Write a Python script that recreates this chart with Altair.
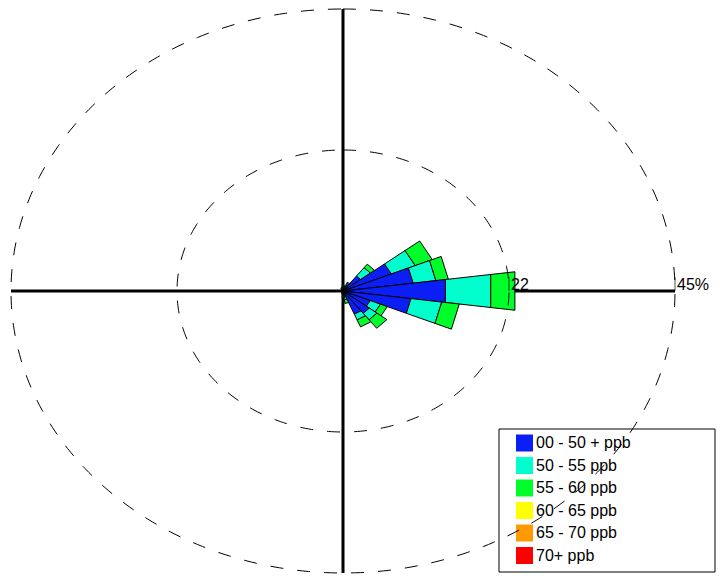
import numpy as np
import pandas as pd
import altair as alt

# ---- data ----
directions = [0, 15, 30, 45, 60, 75, 90, 105, 120, 135, 150, 165,
              180, 195, 210, 225, 240, 255, 270, 285, 300, 315, 330, 345]
s_00_50 = [0.5, 0.4, 1.0, 3.0, 7.1, 9.6, 14.0, 9.3, 4.0, 4.5, 4.0, 1.0,
           0.5, 0.3, 0.2, 0.2, 0.2, 0.2, 0.2, 0.2, 0.2, 0.2, 0.3, 0.3]
s_50_55 = [0.2, 0.2, 0.3, 1.7, 3.5, 3.1, 6.2, 4.2, 1.5, 1.3, 1.0, 0.4,
           0.2, 0.1, 0.0, 0.0, 0.0, 0.0, 0.0, 0.0, 0.0, 0.0, 0.1, 0.1]
s_55_60 = [0.3, 0.2, 0.2, 0.7, 2.5, 1.7, 3.3, 2.4, 1.0, 1.7, 1.2, 0.6,
           0.3, 0.1, 0.0, 0.0, 0.0, 0.0, 0.0, 0.0, 0.0, 0.0, 0.1, 0.2]
s_60_65 = [0.0] * 24
s_65_70 = [0.0] * 24
s_70p = [0.0] * 24

band_labels = ["00 - 50 + ppb", "50 - 55 ppb", "55 - 60 ppb",
               "60 - 65 ppb", "65 - 70 ppb", "70+ ppb"]
band_colors = ["#0a1ef5", "#00ffcc", "#00ff2a", "#ffff00", "#ff9900", "#ff0000"]
ring_values = [22.5, 45]
ring_labels = ["22", "45%"]
sector_width = 15

series = [s_00_50, s_50_55, s_55_60, s_60_65, s_65_70, s_70p]

# ---- wedge polygons (derived from the data) ----
rows = []
for i, d in enumerate(directions):
    cum = 0.0
    for k, vals in enumerate(series):
        v = vals[i]
        if v <= 0:
            continue
        r0, r1 = cum, cum + v
        t1 = np.radians(d - sector_width / 2)
        t2 = np.radians(d + sector_width / 2)
        pts = [(r0, t1), (r1, t1), (r1, t2), (r0, t2)]
        for j, (r, t) in enumerate(pts):
            rows.append({"pid": f"{d}-{k}", "band": band_labels[k], "o": j,
                         "x": r * np.sin(t), "y": r * np.cos(t)})
        cum = r1
wedge_df = pd.DataFrame(rows)

ring_rows = []
for r in ring_values:
    for j, a in enumerate(np.arange(0, 361, 1)):
        t = np.radians(a)
        ring_rows.append({"ring": r, "o": j, "x": r * np.sin(t), "y": r * np.cos(t)})
ring_df = pd.DataFrame(ring_rows)

rmax = max(ring_values)
xs = alt.Scale(domain=[-rmax, rmax], nice=False, zero=False)
ys = alt.Scale(domain=[-rmax, rmax], nice=False, zero=False)

axes_df = pd.DataFrame({"x": [-rmax, 0], "x2": [rmax, 0], "y": [0, -rmax], "y2": [0, rmax]})
axes = alt.Chart(axes_df).mark_rule(color="black", strokeWidth=3).encode(
    x=alt.X("x:Q", scale=xs, axis=None), x2="x2:Q",
    y=alt.Y("y:Q", scale=ys, axis=None), y2="y2:Q")

wedges = alt.Chart(wedge_df).mark_line(
    interpolate="linear-closed", stroke="black", strokeWidth=1, fillOpacity=1
).encode(
    x=alt.X("x:Q", scale=xs, axis=None),
    y=alt.Y("y:Q", scale=ys, axis=None),
    fill=alt.Fill("band:N", scale=alt.Scale(domain=band_labels, range=band_colors), legend=None),
    detail="pid:N",
    order="o:Q",
)

leg_df = pd.DataFrame({"label": band_labels, "color": band_colors, "idx": list(range(6))})
leg_box = alt.Chart(pd.DataFrame({"a": [0]})).mark_rect(
    fill="white", stroke="black", strokeWidth=1).encode(
    x=alt.value(488), x2=alt.value(704), y=alt.value(420), y2=alt.value(563))
leg_sq = alt.Chart(leg_df).transform_calculate(py="434 + datum.idx * 22.5").mark_square(
    size=289, opacity=1, filled=True).encode(
    x=alt.value(513.5), y=alt.Y("py:Q", scale=None),
    color=alt.Color("color:N", scale=None))
leg_tx = alt.Chart(leg_df).transform_calculate(py="434 + datum.idx * 22.5").mark_text(
    align="left", baseline="middle", font="Liberation Sans", fontSize=16, color="black").encode(
    x=alt.value(525), y=alt.Y("py:Q", scale=None), text="label:N")

rings = alt.Chart(ring_df).mark_line(
    color="black", strokeWidth=1, strokeDash=[13, 14]).encode(
    x=alt.X("x:Q", scale=xs, axis=None), y=alt.Y("y:Q", scale=ys, axis=None),
    detail="ring:N", order="o:Q")

lab_df = pd.DataFrame({"x": ring_values, "y": [0, 0], "t": ring_labels})
ticks = alt.Chart(lab_df).mark_tick(orient="vertical", size=14, yOffset=-7,
                                    color="black", thickness=1).encode(
    x=alt.X("x:Q", scale=xs, axis=None), y=alt.Y("y:Q", scale=ys, axis=None))
labels = alt.Chart(lab_df).mark_text(align="left", baseline="alphabetic", dx=2, dy=-1,
                                     font="Liberation Sans", fontSize=16, color="black").encode(
    x=alt.X("x:Q", scale=xs, axis=None), y=alt.Y("y:Q", scale=ys, axis=None), text="t:N")

chart = alt.layer(axes, wedges, leg_box, leg_sq, leg_tx, rings, ticks, labels).properties(
    width=664, height=564,
    autosize=alt.AutoSizeParams(type="none"),
    padding={"left": 3, "top": 1, "right": 41, "bottom": 3},
).configure_view(stroke=None)

chart.save("out.html", embed_options={"renderer": "svg", "actions": False})
